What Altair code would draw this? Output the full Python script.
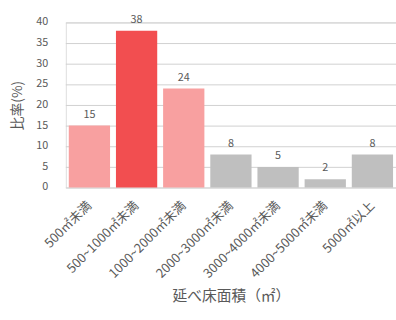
import altair as alt
import pandas as pd

categories = ["500㎡未満", "500~1000㎡未満", "1000~2000㎡未満", "2000~3000㎡未満",
              "3000~4000㎡未満", "4000~5000㎡未満", "5000㎡以上"]
values = [15, 38, 24, 8, 5, 2, 8]
colors = ["#F8A0A0", "#F24E50", "#F8A0A0", "#BFBFBF", "#BFBFBF", "#BFBFBF", "#BFBFBF"]
y_ticks = [0, 5, 10, 15, 20, 25, 30, 35, 40]

df = pd.DataFrame({"cat": categories, "val": values, "color": colors})
ticks_df = pd.DataFrame({"t": y_ticks})

FONT = "Noto Sans CJK JP"
YTITLE = "比率(%)"
yscale = alt.Scale(domain=[0, 40], nice=False)
yaxis = alt.Axis(labels=False, ticks=False, domain=False, grid=False,
                 titleFontSize=14, titleColor="#595959", titleFontWeight="normal",
                 titlePadding=42, titleFont=FONT)
x = alt.X("cat:N", sort=categories, title="延べ床面積（㎡）",
          scale=alt.Scale(paddingInner=0.125, paddingOuter=0.0625),
          axis=alt.Axis(labelAngle=-45, labelAlign="right", labelBaseline="middle",
                        labelFontSize=13, labelColor="#595959", ticks=False, domain=False,
                        labelPadding=16, titleFontSize=15, titleColor="#595959",
                        titleFontWeight="normal", titlePadding=9, labelFont=FONT, titleFont=FONT,
                        labelOverlap=False, labelBound=False, grid=False))
y = alt.Y("val:Q", title=YTITLE, scale=yscale, axis=yaxis)
yt = alt.Y("t:Q", title=YTITLE, scale=yscale, axis=yaxis)

grid = alt.Chart(ticks_df).mark_rule(
    color="#D0D0D0", stroke="#D0D0D0", strokeWidth=1, opacity=1, yOffset=0.5
).encode(y=yt, x=alt.value(0), x2=alt.value(336))
tick_labels = alt.Chart(ticks_df).mark_text(
    align="right", baseline="middle", fontSize=11, color="#595959", font=FONT
).encode(y=yt, x=alt.value(-18), text="t:Q")

bars = alt.Chart(df).mark_bar().encode(x=x, y=y, color=alt.Color("color:N", scale=None))
text = alt.Chart(df).mark_text(dy=-11, fontSize=11, color="#595959", font=FONT).encode(
    x=x, y=y, text="val:Q")

chart = alt.layer(grid, tick_labels, bars, text).properties(
    width=336, height=168,
    autosize=alt.AutoSizeParams(type="none"),
    padding={"left": 67, "top": 20, "right": 0, "bottom": 132},
).configure_view(stroke=None).configure(background="white")

chart.save("out.html", embed_options={"renderer": "svg", "actions": False})
